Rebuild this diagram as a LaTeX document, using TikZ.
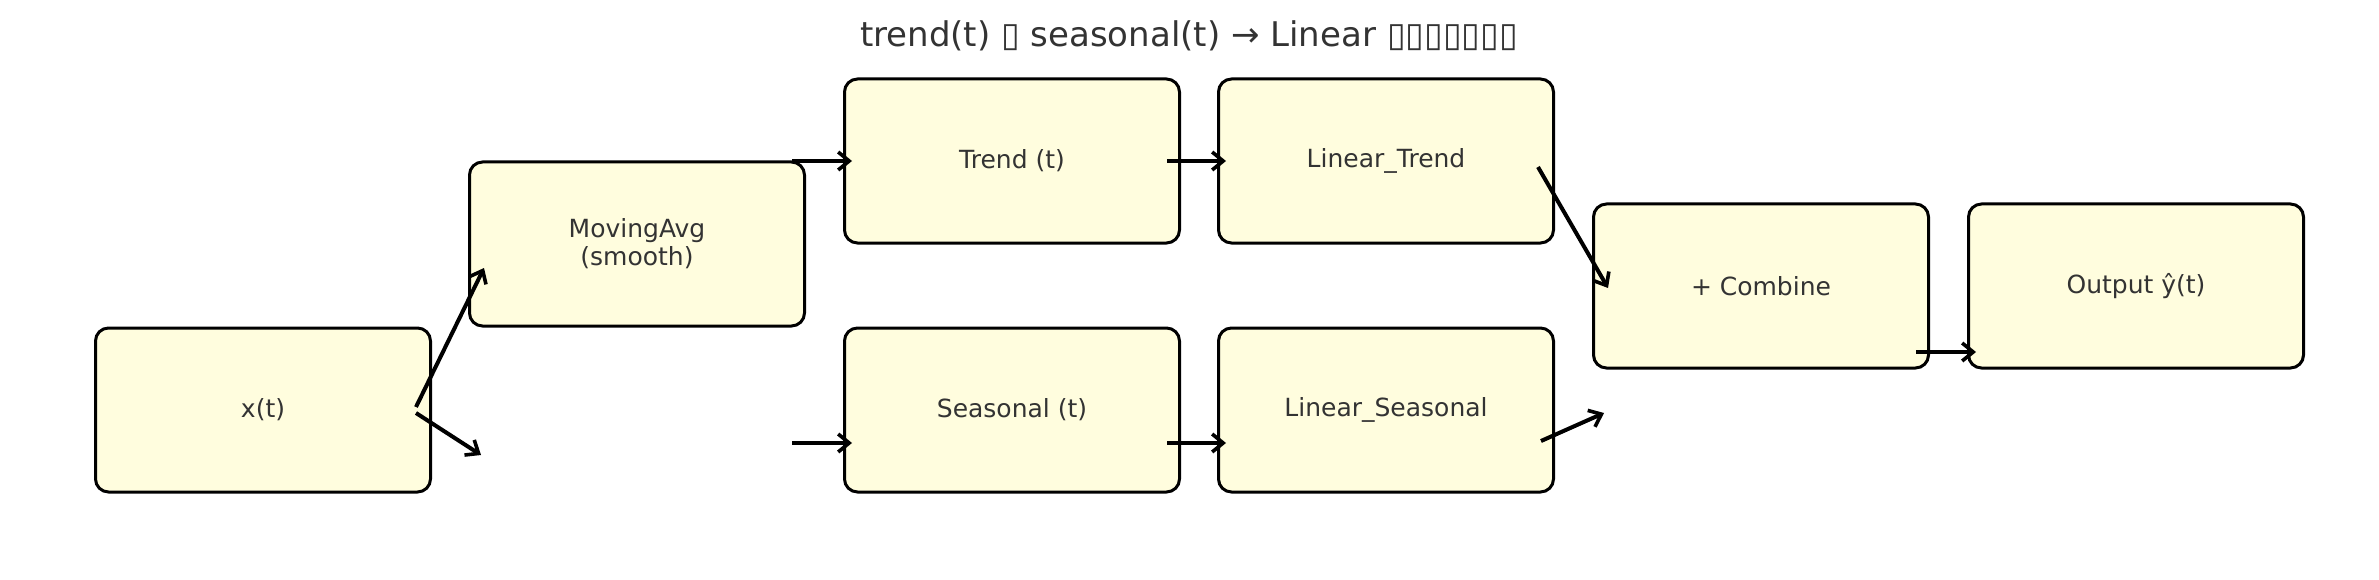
\documentclass[tikz,border=0pt]{standalone}
\usepackage{fontspec}
\setmainfont{DejaVu Sans}
\usetikzlibrary{arrows.meta}
\definecolor{boxfill}{HTML}{FFFDDE}
\definecolor{txt}{HTML}{333333}
\tikzset{
  blk/.style={draw=black, line width=3pt, fill=boxfill, rounded corners=13pt,
    minimum width=335pt, minimum height=164pt, inner sep=0pt, align=center,
    text=txt, font=\fontsize{25}{28}\selectfont},
  conn/.style={line width=4pt, -{Straight Barb[length=11pt,width=18pt,line width=3.6pt]}}
}
\begin{document}
\begin{tikzpicture}[x=1pt,y=-1pt]
\useasboundingbox (0,0) rectangle (2379,580);
\node[text=txt, font=\fontsize{34}{40}\selectfont] (title) at (1189,36) {trend(t) ▯ seasonal(t) → Linear ▯▯▯▯▯▯▯};
\node[blk] (xt) at (263,410) {x(t)};
\node[blk] (ma) at (637,244) {MovingAvg\\(smooth)};
\node[blk] (tr) at (1012,161) {Trend (t)};
\node[blk] (lt) at (1386,161) {Linear\_Trend};
\node[blk] (se) at (1012,410) {Seasonal (t)};
\node[blk] (ls) at (1386,410) {Linear\_Seasonal};
\node[blk] (cb) at (1761,286) {+ Combine};
\node[blk] (op) at (2136,286) {Output ŷ(t)};
\draw[conn] ([shift={(153,-3)}]xt.center) -- ([shift={(-153,24)}]ma.center);
\draw[conn] ([shift={(153,3)}]xt.center) -- ([shift={(218,45)}]xt.center);
\draw[conn] ([shift={(-220,0)}]tr.center) -- ([shift={(9,0)}]tr.west);
\draw[conn] ([shift={(-220,33)}]se.center) -- ([shift={(9,33)}]se.west);
\draw[conn] ([shift={(155,0)}]tr.center) -- ([shift={(9,0)}]lt.west);
\draw[conn] ([shift={(155,33)}]se.center) -- ([shift={(9,33)}]ls.west);
\draw[conn] ([shift={(152,6)}]lt.center) -- ([shift={(-153,2)}]cb.center);
\draw[conn] ([shift={(155,31)}]ls.center) -- ([shift={(-157,127)}]cb.center);
\draw[conn] ([shift={(155,66)}]cb.center) -- ([shift={(9,66)}]op.west);
\end{tikzpicture}
\end{document}
